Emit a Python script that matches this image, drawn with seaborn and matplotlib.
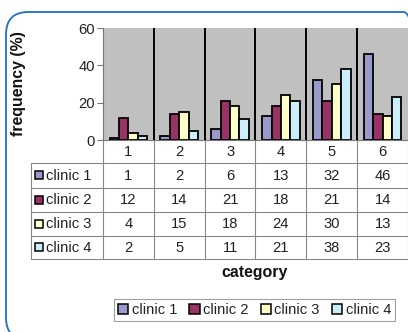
import matplotlib
matplotlib.use("Agg")
import matplotlib.pyplot as plt
import seaborn as sns
import pandas as pd
from matplotlib.patches import FancyBboxPatch, Rectangle, Patch
from matplotlib.lines import Line2D
from matplotlib.transforms import blended_transform_factory

categories = ["1", "2", "3", "4", "5", "6"]
clinics = ["clinic 1", "clinic 2", "clinic 3", "clinic 4"]
clinic1 = [1, 2, 6, 13, 32, 46]
clinic2 = [12, 14, 21, 18, 21, 14]
clinic3 = [4, 15, 18, 24, 30, 13]
clinic4 = [2, 5, 11, 21, 38, 23]
colors = ["#9999CC", "#993366", "#FFFFCC", "#CCEEF8"]
y_ticks = [0, 20, 40, 60]

series = [clinic1, clinic2, clinic3, clinic4]
df = pd.DataFrame(
    [(c, name, v) for name, vals in zip(clinics, series) for c, v in zip(categories, vals)],
    columns=["category", "clinic", "value"],
)

sns.set_theme(style="white")
plt.rcParams["font.family"] = ["Liberation Sans", "DejaVu Sans"]

W, H = 408, 332
FS = 10.6          # table, tick and legend text
FS_BOLD = 11.4     # axis titles
TXT = "#222222"

fig = plt.figure(figsize=(W / 100, H / 100), dpi=100)


def px_rect(x0, y0, x1, y1):
    return [x0 / W, 1 - y1 / H, (x1 - x0) / W, (y1 - y0) / H]


# rounded blue frame (outline only, drawn on top)
frame = FancyBboxPatch((6 / W, -8 / H), 420 / W, (H - 12 + 8) / H,
                       boxstyle="round,pad=0,rounding_size=0.055",
                       transform=fig.transFigure, facecolor="none",
                       edgecolor="#1F6FC5", linewidth=1.3, zorder=10,
                       mutation_aspect=W / H)
fig.patches.append(frame)

ax = fig.add_axes(px_rect(103, 28, 408, 140))
ax.set_facecolor("#C0C0C0")
sns.barplot(data=df, x="category", y="value", hue="clinic", palette=colors,
            edgecolor="black", linewidth=1.3, width=0.74, legend=False,
            saturation=1, ax=ax)
ax.set_xlim(-0.5, len(categories) - 0.5)
ax.set_ylim(0, 60)
ax.set_yticks(y_ticks)
ax.set_yticklabels([str(t) for t in y_ticks], fontsize=FS, color=TXT)
ax.set_xticks([])
ax.set_xlabel("")
ax.set_ylabel("")
ax.tick_params(axis="y", length=4, width=0.8, color="#777777", pad=2, left=True)
for s in ["top", "right"]:
    ax.spines[s].set_visible(False)
for s in ["left", "bottom"]:
    ax.spines[s].set_color("#777777")
    ax.spines[s].set_linewidth(0.8)
for i in range(1, len(categories)):
    ax.axvline(i - 0.5, color="black", linewidth=1.4, zorder=0.5)

fig.text(19 / W, 1 - 84 / H, "frequency (%)", rotation=90, ha="center",
         va="center", fontsize=FS_BOLD, fontweight="bold", color="#111111")

# data table below the chart
tab = fig.add_axes([0, 0, 1, 1], zorder=-1)
tab.set_xlim(0, W)
tab.set_ylim(H, 0)
tab.axis("off")
tab.patch.set_alpha(0)

bt = blended_transform_factory(ax.transData, tab.transData)
gray = "#888888"
lw = 0.8
ncat = len(categories)

# header row with category numbers
for i, c in enumerate(categories):
    tab.add_line(Line2D([i - 0.5, i - 0.5], [140, 163], color=gray, lw=lw, transform=bt))
    tab.text(i, 152, c, transform=bt, ha="center", va="center", fontsize=FS, color=TXT)
tab.add_line(Line2D([ncat - 0.5, ncat - 0.5], [140, 259], color=gray, lw=lw, transform=bt))

row_edges = [163, 188, 212, 236, 259]
for y in row_edges:
    tab.add_line(Line2D([31, 408], [y, y], color=gray, lw=lw))
tab.add_line(Line2D([31, 31], [163, 259], color=gray, lw=lw))
for i in range(ncat):
    tab.add_line(Line2D([i - 0.5, i - 0.5], [163, 259], color=gray, lw=lw, transform=bt))

for r, (name, vals, col) in enumerate(zip(clinics, series, colors)):
    yc = (row_edges[r] + row_edges[r + 1]) / 2
    tab.add_patch(Rectangle((35, yc - 4.5), 8, 8, facecolor=col,
                            edgecolor="black", linewidth=1.1))
    tab.text(46, yc, name, ha="left", va="center", fontsize=FS, color=TXT)
    for i, v in enumerate(vals):
        tab.text(i, yc, str(v), transform=bt, ha="center", va="center",
                 fontsize=FS, color=TXT)

fig.text(255 / W, 1 - 272 / H, "category", ha="center", va="center",
         fontsize=FS_BOLD, fontweight="bold", color="#111111")

handles = [Patch(facecolor=c, edgecolor="black", linewidth=1.1, label=n)
           for c, n in zip(colors, clinics)]
leg = fig.legend(handles=handles, loc="center", ncol=4,
                 bbox_to_anchor=(254.5 / W, 1 - 310 / H),
                 fontsize=FS, frameon=True, fancybox=False,
                 handlelength=0.7, handleheight=0.7, handletextpad=0.25,
                 columnspacing=0.8, borderpad=0.3, borderaxespad=0)
leg.get_frame().set_edgecolor("#888888")
leg.get_frame().set_linewidth(0.8)
for t in leg.get_texts():
    t.set_color(TXT)

fig.savefig("out.png", dpi=100)
